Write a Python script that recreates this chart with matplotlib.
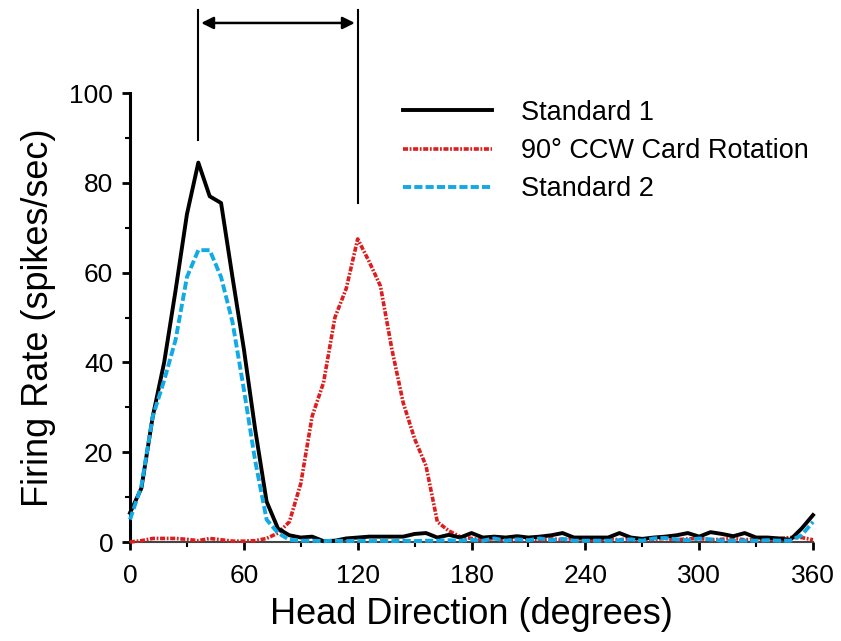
import matplotlib.pyplot as plt
import numpy as np

plt.rcParams['font.family'] = ['Liberation Sans', 'DejaVu Sans']

# head direction bins (6 deg)
angles = np.arange(0, 361, 6)

standard1 = [6.5, 12, 28, 40, 56, 73, 84.5, 77, 75.5, 59,
             43, 25, 9, 3, 1.5, 1, 1.2, 0.2, 0.3, 0.8,
             1, 1.2, 1.2, 1.2, 1.2, 1.8, 2, 1, 1.6, 1,
             2, 1, 1.2, 1, 1.3, 1, 1.2, 1.5, 2, 1,
             1, 1, 1, 2, 1, 0.7, 1, 1.2, 1.5, 2,
             1.2, 2.2, 1.8, 1.3, 2, 1, 1, 0.8, 0.5, 3, 6]

rotation = [0, 0.3, 0.8, 0.8, 0.8, 0.6, 0.3, 0.8, 0.5, 0.2,
            0.2, 0.3, 0.8, 2, 4.5, 13, 28, 35.5, 50, 56.5,
            67.5, 62.5, 57, 43, 31, 23, 17, 4.5, 2.5, 1.2,
            0.8, 0.5, 0.8, 0.5, 0.6, 0.8, 0.5, 0.7, 0.5, 0.8,
            0.6, 0.5, 0.7, 0.5, 0.8, 0.5, 0.6, 0.8, 0.5, 0.7,
            0.8, 0.5, 0.6, 0.8, 0.5, 0.7, 0.5, 0.8, 1, 1, 0.5]

standard2 = [5, 12.5, 28, 36, 45, 59, 65, 65, 59, 49,
             34, 18, 5, 2, 0.5, 0.3, 0.3, 0.2, 0.3, 0.2,
             0.3, 0.2, 0.3, 0.2, 0.3, 0.2, 0.3, 0.3, 0.4, 0.3,
             0.5, 0.3, 0.8, 0.3, 0.6, 0.4, 0.8, 0.4, 0.7, 0.3,
             0.3, 0.3, 0.3, 0.4, 0.6, 0.3, 0.8, 0.9, 0.6, 0.4,
             0.8, 0.6, 0.3, 0.3, 0.3, 0.3, 0.4, 0.3, 0.3, 1.5, 4.5]

black = '#000000'
red = '#dc1e1e'
blue = '#12aae6'

fig = plt.figure(figsize=(8.41, 6.41), dpi=100)
ax = fig.add_axes([0.1546, 0.1544, 0.8121, 0.7005])

ax.plot(angles, standard1, color=black, lw=2.8, label='Standard 1', clip_on=False, zorder=4)
ax.plot(angles, rotation, color=red, lw=2.6, dashes=[1.4, 0.45, 0.5, 0.45],
        label='90° CCW Card Rotation', clip_on=False, zorder=3)
ax.plot(angles, standard2, color=blue, lw=2.8, dashes=[2.1, 0.8],
        label='Standard 2', clip_on=False, zorder=5)

ax.set_xlim(0, 360)
ax.set_ylim(0, 100)
ax.set_xticks(np.arange(0, 361, 60))
ax.set_xticks(np.arange(30, 361, 60), minor=True)
ax.set_yticks(np.arange(0, 101, 20))
ax.set_yticks(np.arange(10, 101, 20), minor=True)

for s in ['top', 'right']:
    ax.spines[s].set_visible(False)
ax.spines['left'].set_linewidth(2.2)
ax.spines['bottom'].set_linewidth(1.5)
ax.spines['bottom'].set_color('#444444')

ax.tick_params(which='major', direction='out', length=6, width=2, labelsize=19)
ax.tick_params(axis='x', which='major', pad=10)
ax.tick_params(axis='y', which='major', pad=6)
ax.tick_params(which='minor', direction='out', length=3.5, width=1.5)

ax.set_xlabel('Head Direction (degrees)', fontsize=26, labelpad=6)
ax.set_ylabel('Firing Rate (spikes/sec)', fontsize=26, labelpad=10)

leg = ax.legend(loc='upper left', bbox_to_anchor=(0.384, 1.009), frameon=False,
                fontsize=19.5, handlelength=3.3, handletextpad=1.05,
                labelspacing=0.45, borderaxespad=0)

# peak shift marker
p1 = angles[int(np.argmax(standard1))]
p2 = angles[int(np.argmax(rotation))]
ax.plot([p1, p1], [89.5, 118.5], color='black', lw=1.5, clip_on=False)
ax.plot([p2, p2], [75.5, 118.5], color='black', lw=1.5, clip_on=False)
ax.annotate('', xy=(p2 - 1.5, 115.6), xytext=(p1 + 1.5, 115.6),
            arrowprops=dict(arrowstyle='<|-|>', color='black', lw=1.8,
                            mutation_scale=18, shrinkA=0, shrinkB=0),
            annotation_clip=False)

fig.savefig('out.png', dpi=100)
